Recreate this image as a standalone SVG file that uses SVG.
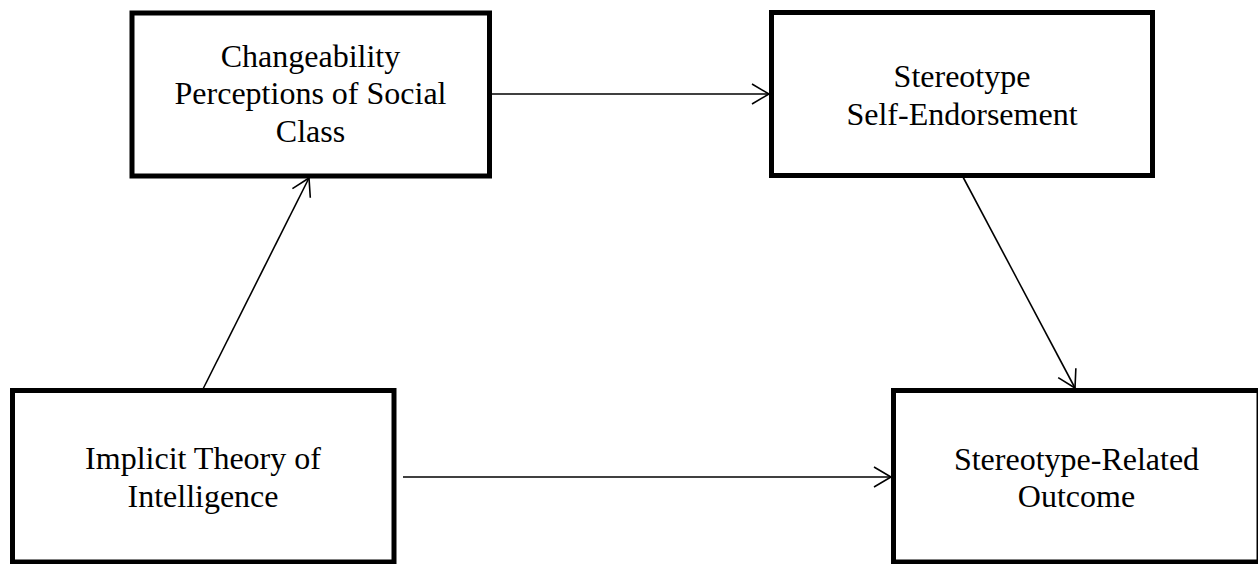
<svg xmlns="http://www.w3.org/2000/svg" width="1258" height="564" viewBox="0 0 1258 564">
  <style>
    .box { fill: #ffffff; stroke: #000000; stroke-width: 5; }
    .label { font-family: "Liberation Serif", "Times New Roman", serif; font-size: 32px; fill: #000000; text-anchor: middle; }
    .edge { fill: none; stroke: #000000; stroke-width: 1.6; marker-end: url(#openArrow); }
  </style>
  <defs>
    <marker id="openArrow" markerUnits="userSpaceOnUse" markerWidth="24" markerHeight="24" viewBox="-20 -12 24 24" refX="0" refY="0" orient="auto" overflow="visible">
      <path d="M -17 -10 L 0 0 L -17 10" fill="none" stroke="#000000" stroke-width="1.6"/>
    </marker>
  </defs>

  <rect width="1258" height="564" fill="#ffffff"/>

  <g id="connectors">
    <line class="edge" x1="489" y1="94" x2="769" y2="94"/>
    <line class="edge" x1="203" y1="389" x2="309" y2="178"/>
    <line class="edge" x1="963" y1="177" x2="1075" y2="388"/>
    <line class="edge" x1="403" y1="477" x2="891" y2="477"/>
  </g>

  <g id="changeability">
    <rect class="box" x="132" y="13" width="357.5" height="163"/>
    <text class="label" x="310.5" y="67">Changeability</text>
    <text class="label" x="310.5" y="104">Perceptions of Social</text>
    <text class="label" x="310.5" y="142">Class</text>
  </g>

  <g id="self-endorsement">
    <rect class="box" x="771.5" y="12.5" width="381" height="163"/>
    <text class="label" x="962" y="87">Stereotype</text>
    <text class="label" x="962" y="125">Self-Endorsement</text>
  </g>

  <g id="implicit-theory">
    <rect class="box" x="12.5" y="390.5" width="381.5" height="171.5"/>
    <text class="label" x="203" y="469">Implicit Theory of</text>
    <text class="label" x="203" y="507">Intelligence</text>
  </g>

  <g id="outcome">
    <rect class="box" x="893.5" y="390.5" width="365.5" height="171.5"/>
    <text class="label" x="1076.5" y="470">Stereotype-Related</text>
    <text class="label" x="1076.5" y="507">Outcome</text>
  </g>
</svg>
